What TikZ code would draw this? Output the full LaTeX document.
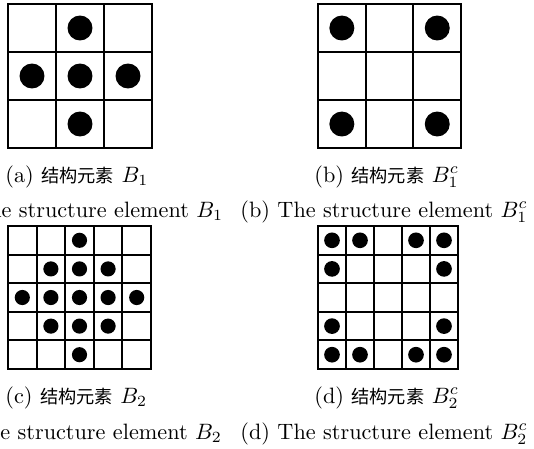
\documentclass[tikz,border=0pt]{standalone}
\usepackage{fontspec}
\newfontfamily\cjk{Noto Sans CJK SC}[Scale=0.82]
\begin{document}
\begin{tikzpicture}[x=0.45pt,y=-0.45pt,
  gridline/.style={line width=0.95pt,line cap=rect},
  dot/.style={fill=black},
  captext/.style={anchor=base west,inner sep=0pt,font=\fontsize{10}{12}\selectfont}]
\useasboundingbox (0,0) rectangle (534,448);
\clip (0,0) rectangle (534,448);
% (a) grid 3x3
\begin{scope}[shift={(8,4)},xscale=48,yscale=48]
  \foreach \i in {0,...,3} {
    \draw[gridline] (\i,0) -- (\i,3);
    \draw[gridline] (0,\i) -- (3,\i);
  }
  \foreach \c/\r in {1/0,0/1,1/1,2/1,1/2}
    \fill[dot] ({\c+0.5},{\r+0.5}) circle[radius=0.26];
\end{scope}
% (b) grid 3x3
\begin{scope}[shift={(318,4)},xscale=47.7,yscale=48]
  \foreach \i in {0,...,3} {
    \draw[gridline] (\i,0) -- (\i,3);
    \draw[gridline] (0,\i) -- (3,\i);
  }
  \foreach \c/\r in {0/0,2/0,0/2,2/2}
    \fill[dot] ({\c+0.5},{\r+0.5}) ellipse[x radius=0.262,y radius=0.26];
\end{scope}
% (c) grid 5x5
\begin{scope}[shift={(8,226)},xscale=28.6,yscale=28.6]
  \foreach \i in {0,...,5} {
    \draw[gridline] (\i,0) -- (\i,5);
    \draw[gridline] (0,\i) -- (5,\i);
  }
  \foreach \c/\r in {2/0,1/1,2/1,3/1,0/2,1/2,2/2,3/2,4/2,1/3,2/3,3/3,2/4}
    \fill[dot] ({\c+0.5},{\r+0.5}) circle[radius=0.265];
\end{scope}
% (d) grid 5x5
\begin{scope}[shift={(318,226)},xscale=28,yscale=28.6]
  \foreach \i in {0,...,5} {
    \draw[gridline] (\i,0) -- (\i,5);
    \draw[gridline] (0,\i) -- (5,\i);
  }
  \foreach \c/\r in {0/0,1/0,3/0,4/0,0/1,4/1,0/3,4/3,0/4,1/4,3/4,4/4}
    \fill[dot] ({\c+0.5},{\r+0.5}) ellipse[x radius=0.28,y radius=0.274];
\end{scope}
% captions
\node[captext] (ca1) at (5,182) {(a) {\cjk 结构元素} $B_1$};
\node[captext] (ca2) at (-63,217) {(a) The structure element $B_1$};
\node[captext] (cb1) at (314,182) {(b) {\cjk 结构元素} $B_1^c$};
\node[captext] (cb2) at (240,217) {(b) The structure element $B_1^c$};
\node[captext] (cc1) at (5,403) {(c) {\cjk 结构元素} $B_2$};
\node[captext] (cc2) at (-63,439) {(c) The structure element $B_2$};
\node[captext] (cd1) at (314,403) {(d) {\cjk 结构元素} $B_2^c$};
\node[captext] (cd2) at (240,439) {(d) The structure element $B_2^c$};
\end{tikzpicture}
\end{document}
